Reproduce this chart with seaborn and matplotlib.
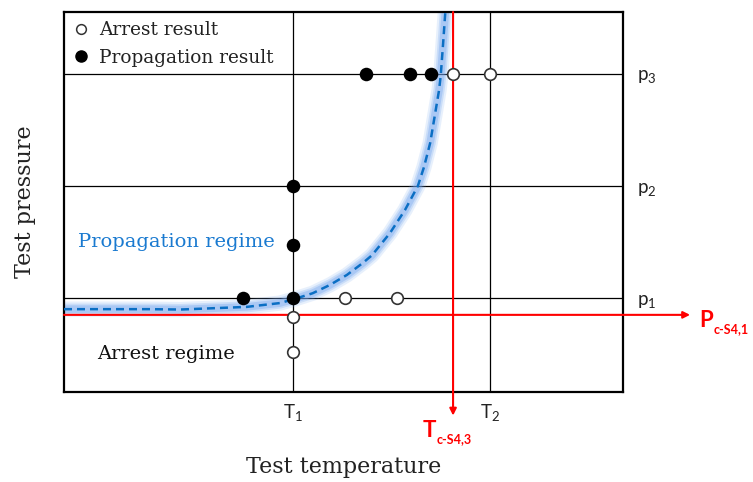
import matplotlib
matplotlib.use("Agg")
import matplotlib.pyplot as plt
import seaborn as sns
import pandas as pd
from matplotlib.lines import Line2D

# ---- data (axis units: 0-100 in both directions) ----
T_levels = [41.0, 76.2]            # T1, T2
T_labels = [r"$\mathrm{T}_1$", r"$\mathrm{T}_2$"]
p_levels = [24.7, 54.2, 83.7]      # p1, p2, p3
p_labels = [r"$\mathrm{p}_1$", r"$\mathrm{p}_2$", r"$\mathrm{p}_3$"]
Tc_value = 69.6                    # T_c-S4,3
Pc_value = 20.3                    # P_c-S4,1

prop_x = [54.0, 61.9, 65.7, 32.0, 41.0, 41.0, 41.0]
prop_y = [83.7, 83.7, 83.7, 24.7, 24.7, 54.2, 38.7]
arrest_x = [69.6, 76.2, 50.3, 59.6, 41.0, 41.0]
arrest_y = [83.7, 83.7, 24.7, 24.7, 19.7, 10.5]

curve_x = [0.0, 15.4, 20.8, 32.7, 38.6, 41.3, 44.5, 47.6, 50.6, 53.5, 55.1,
           58.3, 61.0, 63.3, 64.4, 65.5, 66.5, 67.1, 67.4, 67.8, 68.2]
curve_y = [21.8, 21.8, 21.7, 22.4, 23.4, 24.5, 26.0, 28.2, 30.8, 34.0, 36.0,
           41.8, 47.9, 54.2, 59.2, 65.5, 74.2, 79.5, 83.4, 91.3, 99.7]

# ---- style ----
sns.set_theme(style="white")
plt.rcParams["font.family"] = ["DejaVu Serif"]
plt.rcParams["mathtext.fontset"] = "custom"
plt.rcParams["mathtext.rm"] = "Lato"
plt.rcParams["mathtext.it"] = "Lato:italic"
plt.rcParams["mathtext.bf"] = "Lato:bold"

fig = plt.figure(figsize=(7.53, 4.82), dpi=100)
ax = fig.add_axes([64 / 753, 90 / 482, 559 / 753, 380 / 482])
ax.set_xlim(0, 100)
ax.set_ylim(0, 100)

for s in ax.spines.values():
    s.set_color("black")
    s.set_linewidth(1.6)
    s.set_visible(True)

# grid lines at the test levels
for t in T_levels:
    ax.axvline(t, color="black", lw=0.9, zorder=1)
for p in p_levels:
    ax.axhline(p, color="black", lw=0.9, zorder=1)

# curve with glow
curve = pd.DataFrame({"x": curve_x, "y": curve_y})
for lw, a in [(11, 0.16), (8, 0.24), (5.5, 0.35)]:
    sns.lineplot(data=curve, x="x", y="y", sort=False, estimator=None, ax=ax,
                 color="#6fa3ee", lw=lw, alpha=a, zorder=2,
                 solid_capstyle="round", solid_joinstyle="round")
sns.lineplot(data=curve, x="x", y="y", sort=False, estimator=None, ax=ax,
             color="#0b6fc4", lw=1.8, zorder=3)
ax.lines[-1].set_linestyle((0, (3.2, 2.0)))

# red critical lines with arrows
ax.annotate("", xy=(112.0, Pc_value), xytext=(0, Pc_value),
            xycoords="data", textcoords="data", annotation_clip=False,
            arrowprops=dict(arrowstyle="-|>", color="#ff0000", lw=1.5,
                            mutation_scale=10, shrinkA=0, shrinkB=0), zorder=4)
ax.annotate("", xy=(Tc_value, -6.2), xytext=(Tc_value, 100),
            xycoords="data", textcoords="data", annotation_clip=False,
            arrowprops=dict(arrowstyle="-|>", color="#ff0000", lw=1.5,
                            mutation_scale=10, shrinkA=0, shrinkB=0), zorder=4)

# test results
prop = pd.DataFrame({"x": prop_x, "y": prop_y})
arr = pd.DataFrame({"x": arrest_x, "y": arrest_y})
sns.scatterplot(data=prop, x="x", y="y", ax=ax, color="black", s=95,
                edgecolor="black", linewidth=0, zorder=6)
sns.scatterplot(data=arr, x="x", y="y", ax=ax, facecolor="white",
                edgecolor="#333333", s=70, linewidth=1.2, zorder=6)

# ticks / labels
ax.set_xticks(T_levels, labels=T_labels)
ax.yaxis.tick_right()
ax.set_yticks(p_levels, labels=p_labels)
ax.tick_params(axis="x", length=0, pad=7, labelsize=13.5, colors="#222222")
ax.tick_params(axis="y", length=0, pad=10, labelsize=13.5, colors="#222222")
ax.set_xlabel("Test temperature", fontsize=16, color="#222222", labelpad=24.2)
ax.yaxis.set_label_position("left")
ax.set_ylabel("Test pressure", fontsize=16, color="#222222", labelpad=20)

# regime labels
ax.text(2.5, 39.5, "Propagation regime", color="#1a7ad0", fontsize=14,
        va="center", ha="left")
ax.text(6.0, 10.0, "Arrest regime", color="#111111", fontsize=14,
        va="center", ha="left")

# red critical labels (main letter + subscript)
def red_label(x, y, main, sub):
    t = ax.text(x, y, main, color="#ff0000", fontsize=16, fontweight="bold",
                family="Lato", ha="left", va="baseline", clip_on=False)
    ax.annotate(sub, xy=(1, 0), xycoords=t, xytext=(0.3, -1.5),
                textcoords="offset points", color="#ff0000", fontsize=9,
                fontweight="bold", family="Lato", ha="left", va="baseline",
                annotation_clip=False)

red_label(113.6, 17.1, "P", "c-S4,1")
red_label(64.2, -11.8, "T", "c-S4,3")

# legend
handles = [
    Line2D([], [], ls="none", marker="o", markersize=7, markerfacecolor="white",
           markeredgecolor="#333333", markeredgewidth=1.1),
    Line2D([], [], ls="none", marker="o", markersize=8, markerfacecolor="black",
           markeredgecolor="black"),
]
ax.legend(handles, ["Arrest result", "Propagation result"], loc="upper left",
          bbox_to_anchor=(0.0, 1.0), frameon=False, fontsize=13.3,
          handlelength=0.9, handletextpad=0.5, labelspacing=0.52,
          borderaxespad=0.09, labelcolor="#222222")

fig.savefig("out.png", dpi=100)
